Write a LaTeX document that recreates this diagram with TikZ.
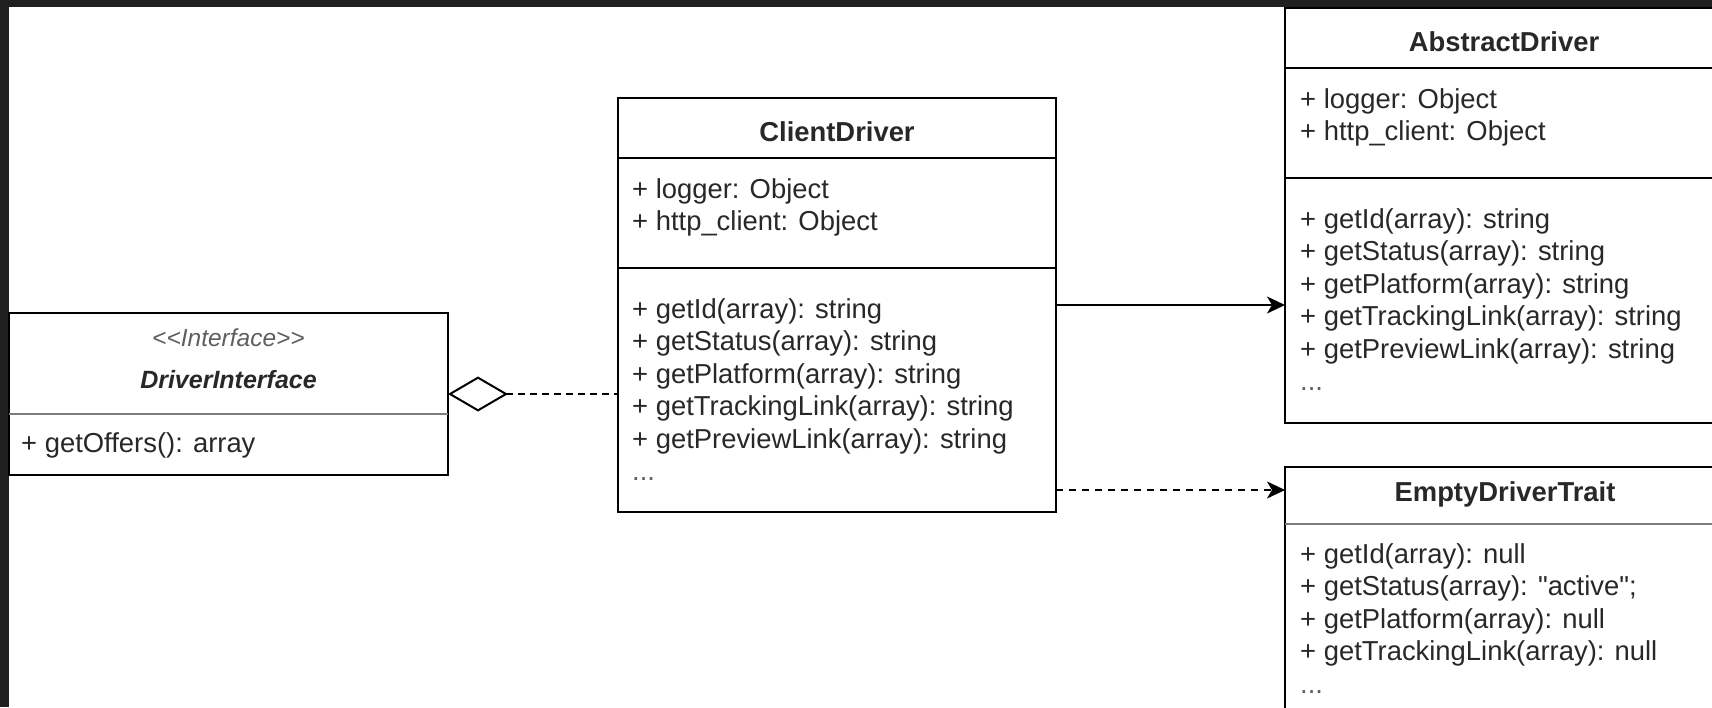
\documentclass[tikz,border=0pt]{standalone}
\usepackage{fontspec}
\setmainfont{Liberation Sans}[Ligatures=TeXOff]
\usetikzlibrary{arrows.meta,calc}
\definecolor{framegray}{RGB}{32,32,32}
\definecolor{ink}{RGB}{40,40,40}
\definecolor{softink}{RGB}{95,95,95}
\definecolor{rulegray}{RGB}{125,125,125}
\newcommand\umlsize{\fontsize{27.4pt}{32.5pt}\selectfont}
\begin{document}
\begin{tikzpicture}[x=1pt,y=-1pt,
    box/.style={draw=black,line width=2pt,fill=white,anchor=north west,inner sep=0pt,outer sep=0pt,minimum width=438pt},
    title/.style={anchor=base,font=\umlsize\bfseries,text=ink,inner sep=0pt},
    member/.style={anchor=base west,align=left,font=\umlsize,text=ink,inner sep=0pt},
    more/.style={anchor=base west,font=\umlsize,text=softink,inner sep=0pt},
    link/.style={line width=2pt,-{Stealth[length=18pt,width=17pt,inset=5pt]}}]
    \useasboundingbox (0,0) rectangle (1712,707);
    \clip (0,0) rectangle (1712,707);
    \fill[framegray] (0,0) rectangle (1712,707);
    \fill[white] (9,7) rectangle (1712,707);
    % interface (member nodes sit on their last baseline)
    \node[box,minimum width=439pt,minimum height=162pt] (di) at (9,313) {};
    \draw[rulegray,line width=1.2pt] (9,414) -- (448,414);
    \node[anchor=base,font=\fontsize{24.5pt}{28pt}\selectfont\itshape,text=softink,inner sep=0pt] (di-stereo) at (228.5,346) {<\kern0pt<Interface>\kern0pt>};
    \node[title,font=\fontsize{25pt}{30pt}\selectfont\bfseries\itshape] (di-name) at (228.5,388) {DriverInterface};
    \node[member] (di-ops) at (21,452) {+ getOffers(): array};
    % client driver
    \node[box,minimum height=414pt] (cd) at (618,98) {};
    \draw[line width=2pt] (618,158) -- (1056,158);
    \draw[line width=2pt] (618,268) -- (1056,268);
    \node[title] (cd-name) at (837,141) {ClientDriver};
    \node[member] (cd-attr) at (632,230.5) {+ logger: Object\\+ http\_client: Object};
    \node[member] (cd-ops) at (632,448) {+ getId(array): string\\+ getStatus(array): string\\+ getPlatform(array): string\\+ getTrackingLink(array): string\\+ getPreviewLink(array): string};
    \node[more] (cd-more) at (632,480) {...};
    % abstract driver
    \node[box,minimum height=415pt] (ad) at (1285,8) {};
    \draw[line width=2pt] (1285,68) -- (1723,68);
    \draw[line width=2pt] (1285,178) -- (1723,178);
    \node[title] (ad-name) at (1504,51) {AbstractDriver};
    \node[member] (ad-attr) at (1300,140.5) {+ logger: Object\\+ http\_client: Object};
    \node[member] (ad-ops) at (1300,358) {+ getId(array): string\\+ getStatus(array): string\\+ getPlatform(array): string\\+ getTrackingLink(array): string\\+ getPreviewLink(array): string};
    \node[more] (ad-more) at (1300,390) {...};
    % trait
    \node[box,minimum width=440pt,minimum height=300pt] (edt) at (1285,467) {};
    \draw[rulegray,line width=1.2pt] (1285,524) -- (1725,524);
    \node[title] (edt-name) at (1505,501) {EmptyDriverTrait};
    \node[member] (edt-ops) at (1300,660.5) {+ getId(array): null\\+ getStatus(array): "active";\\+ getPlatform(array): null\\+ getTrackingLink(array): null};
    \node[more] (edt-more) at (1300,693) {...};
    % relations
    \draw[line width=2pt,dash pattern=on 7pt off 5pt,{Diamond[open,length=60pt,width=35pt]}-] (di.east) -- (di.east -| cd.west);
    \draw[link] (cd.east) -- (cd.east -| ad.west);
    \draw[link,dash pattern=on 7pt off 6pt] ($(cd.south east)+(0,-22)$) -- ($(cd.south east -| edt.west)+(0,-22)$);
\end{tikzpicture}
\end{document}
